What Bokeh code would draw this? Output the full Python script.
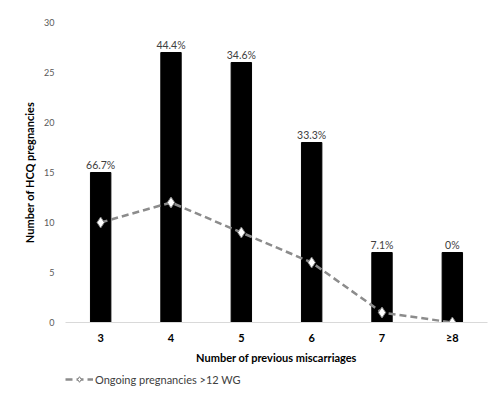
from bokeh.plotting import figure
from bokeh.layouts import column
from bokeh.models import FactorRange, Range1d, ColumnDataSource, Legend, LegendItem, FixedTicker
from bokeh.embed import file_html
from bokeh.resources import INLINE
from bokeh.core.properties import value

categories = ["3", "4", "5", "6", "7", "≥8"]
hcq_pregnancies = [15, 27, 26, 18, 7, 7]
ongoing = [10, 12, 9, 6, 1, 0]
pct_labels = ["66.7%", "44.4%", "34.6%", "33.3%", "7.1%", "0%"]
legend_label = "Ongoing pregnancies >12 WG"

FONT = "Lato"
LINE_COLOR = "#8c8c8c"

p = figure(width=492, height=366, output_backend="svg", toolbar_location=None,
           x_range=FactorRange(factors=categories, range_padding=0),
           y_range=Range1d(0, 30),
           min_border_left=65, min_border_right=5, min_border_top=22, min_border_bottom=44)
p.outline_line_color = None
p.xgrid.grid_line_color = None
p.ygrid.grid_line_color = None

src = ColumnDataSource(dict(x=categories, top=hcq_pregnancies, line=ongoing, lab=pct_labels))
p.vbar(x="x", top="top", width=0.29, source=src, fill_color="black", line_color="black")
p.text(x="x", y="top", text="lab", source=src, text_align="center", text_baseline="bottom",
       y_offset=-2, text_font=value(FONT), text_font_size="10.5px", text_color="#404040")

p.line(x="x", y="line", source=src, line_color=LINE_COLOR, line_width=2.5, line_dash="7 4")
p.scatter(x="x", y="line", source=src, marker="diamond", size=11, fill_color="white",
          line_color="#7f7f7f", line_width=1)

p.yaxis.ticker = FixedTicker(ticks=[0, 5, 10, 15, 20, 25, 30])
p.yaxis.axis_line_color = None
p.yaxis.major_tick_line_color = None
p.yaxis.minor_tick_line_color = None
p.yaxis.major_label_text_font = FONT
p.yaxis.major_label_text_font_size = "9px"
p.yaxis.major_label_text_color = "#595959"
p.yaxis.major_label_standoff = 5
p.yaxis.axis_label = "Number of HCQ pregnancies"
p.yaxis.axis_label_text_font = FONT
p.yaxis.axis_label_text_font_style = "bold"
p.yaxis.axis_label_text_font_size = "11px"
p.yaxis.axis_label_text_color = "black"
p.yaxis.axis_label_standoff = 5

p.xaxis.axis_line_color = "#d9d9d9"
p.xaxis.major_tick_line_color = None
p.xaxis.minor_tick_line_color = None
p.xaxis.major_label_text_font = FONT
p.xaxis.major_label_text_font_style = "bold"
p.xaxis.major_label_text_font_size = "11px"
p.xaxis.major_label_text_color = "black"
p.xaxis.major_label_standoff = 2
p.xaxis.axis_label = "Number of previous miscarriages"
p.xaxis.axis_label_text_font = FONT
p.xaxis.axis_label_text_font_style = "bold"
p.xaxis.axis_label_text_font_size = "11px"
p.xaxis.axis_label_text_color = "black"
p.xaxis.axis_label_standoff = 4

# legend strip below the chart (its renderers hold no visible data)
nan = float("nan")
lg = figure(width=492, height=20, output_backend="svg", toolbar_location=None,
            x_range=Range1d(0, 1), y_range=Range1d(0, 1),
            x_axis_type=None, y_axis_type=None,
            min_border_left=0, min_border_right=0, min_border_top=0, min_border_bottom=0)
lg.outline_line_color = None
lg.xgrid.grid_line_color = None
lg.ygrid.grid_line_color = None
empty = ColumnDataSource(dict(x=[nan], y=[nan]))
ln = lg.line(x="x", y="y", source=empty, line_color=LINE_COLOR, line_width=2.5, line_dash="7 4")
sc = lg.scatter(x="x", y="y", source=empty, marker="diamond", size=11, fill_color="white",
                line_color="#7f7f7f", line_width=1)
legend = Legend(items=[LegendItem(label=legend_label, renderers=[ln, sc])],
                orientation="horizontal", location=(0, 0),
                label_text_font=FONT, label_text_font_size="11px", label_text_color="#404040",
                border_line_color=None, background_fill_alpha=0,
                glyph_width=28, glyph_height=14, label_standoff=2, padding=2, margin=0,
                label_height=14)
lg.add_layout(legend)

open("out.html", "w").write(file_html(column(p, lg, spacing=0), INLINE))
